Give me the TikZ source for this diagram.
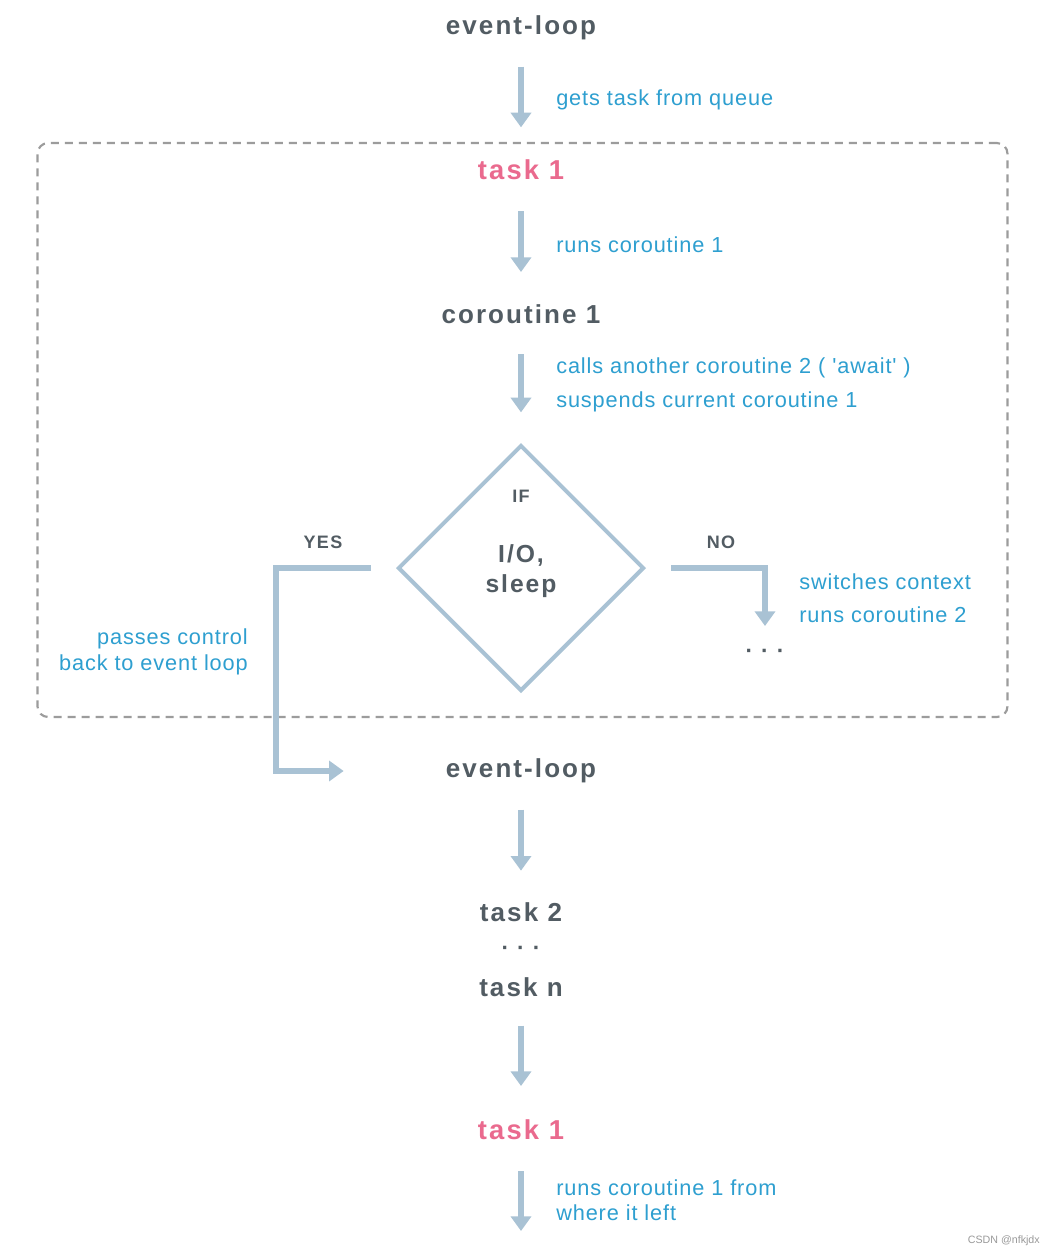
\documentclass[tikz,border=0pt]{standalone}
\usepackage{fontspec}
\setmainfont{Liberation Sans}
\newfontfamily\titlefont[LetterSpace=8]{Liberation Sans}
\newfontfamily\labelfont[LetterSpace=4]{Liberation Sans}
\usetikzlibrary{arrows.meta,shapes.geometric}
\definecolor{darktxt}{HTML}{525C63}
\definecolor{bluetxt}{HTML}{2E9FD0}
\definecolor{pinktxt}{HTML}{EA6A8E}
\definecolor{arrowc}{HTML}{A9C2D4}
\definecolor{dashc}{HTML}{9C9C9C}
\newcommand{\tridots}{·\hspace{6pt}·\hspace{6pt}·}
\begin{document}
\begin{tikzpicture}[x=0.75pt,y=-0.75pt,
  title/.style={text=darktxt,font=\titlefont\bfseries\fontsize{19.5pt}{22pt}\selectfont,inner sep=0pt},
  pinktitle/.style={title,text=pinktxt,font=\titlefont\bfseries\fontsize{20.5pt}{22pt}\selectfont},
  lbl/.style={text=bluetxt,font=\labelfont\fontsize{16.3pt}{18pt}\selectfont,inner sep=0pt},
  small/.style={text=darktxt,font=\titlefont\bfseries\fontsize{13.5pt}{16pt}\selectfont,inner sep=0pt},
  flow/.style={draw=arrowc,line width=4.5pt,-{Triangle[width=15pt,length=11pt]}},
  elbow/.style={draw=arrowc,line width=4.5pt},
  dotsty/.style={text=darktxt,font=\bfseries\fontsize{17pt}{18pt}\selectfont,inner sep=0pt}
]
\useasboundingbox[fill=white] (0,0) rectangle (1055,1257);

% group box
\node[draw=dashc,line width=1.6pt,dash pattern=on 6pt off 4.5pt,rounded corners=8pt,
      minimum width=727.5pt,minimum height=430.5pt,inner sep=0pt] (box) at (522.5,430) {};

% main nodes
\node[title] (el1) at (521,28) {event-loop};
\node[pinktitle] (t1) at (521,170) {task 1};
\node[title] (co1) at (521,314) {coroutine 1};
\node[draw=arrowc,line width=3pt,diamond,minimum width=184.5pt,minimum height=184.5pt,inner sep=0pt] (dia) at (521,568) {};
\node[small] (if) at (521,496) {IF};
\node[title,align=center,font=\titlefont\bfseries\fontsize{18.5pt}{22.5pt}\selectfont] (io) at (521,571) {I/O,\\sleep};
\node[small] (yes) at (323,542) {YES};
\node[small] (no) at (721,542) {NO};
\node[dotsty] (dots1) at (765,654) {\tridots};
\node[title] (el2) at (521,771) {event-loop};
\node[title] (t2) at (521,912) {task 2};
\node[dotsty] (dots2) at (521,951) {\tridots};
\node[title] (tn) at (521,987) {task n};
\node[pinktitle] (t1b) at (521,1130) {task 1};
\coordinate (end) at (521,1231);
\coordinate (yb) at (276,568);

% labels
\node[lbl,anchor=west] (l1) at (556,100) {gets task from queue};
\node[lbl,anchor=west] (l2) at (556,245) {runs coroutine 1};
\node[lbl,anchor=west] (l3) at (556,368) {calls another coroutine 2 ( 'await' )};
\node[lbl,anchor=west] (l4) at (556,402) {suspends current coroutine 1};
\node[lbl,anchor=west] (l5) at (799,582) {switches context};
\node[lbl,anchor=west] (l6) at (799,615) {runs coroutine 2};
\node[lbl,anchor=east] (l7) at (248,639) {passes control};
\node[lbl,anchor=east] (l8) at (248,665) {back to event loop};
\node[lbl,anchor=west] (l9) at (556,1188) {runs coroutine 1 from};
\node[lbl,anchor=west] (l10) at (556,1213) {where it left};
\node[text=gray!80,font=\fontsize{8pt}{9pt}\selectfont,inner sep=0pt,anchor=east] (wm) at (1040,1241) {CSDN @nfkjdx};

% connectors
\draw[flow,shorten <=29pt,shorten >=32pt] (el1.center) -- (t1.center);
\draw[flow,shorten <=31pt,shorten >=31.5pt] (t1.center) -- (co1.center);
\draw[flow,shorten <=30pt,shorten >=23pt] (co1.center) -- (dia.north);
\draw[elbow,-{Triangle[width=15pt,length=11pt]},shorten <=19pt,shorten >=133pt] (dia.west) -- (yb) |- (el2.center);
\draw[elbow,-{Triangle[width=15pt,length=11pt]},shorten <=19pt,shorten >=21pt] (dia.east) -| (dots1.center);
\draw[flow,shorten <=29pt,shorten >=31pt] (el2.center) -- (t2.center);
\draw[flow,shorten <=29pt,shorten >=33pt] (tn.center) -- (t1b.center);
\draw[flow,shorten <=31pt] (t1b.center) -- (end);
\end{tikzpicture}
\end{document}
